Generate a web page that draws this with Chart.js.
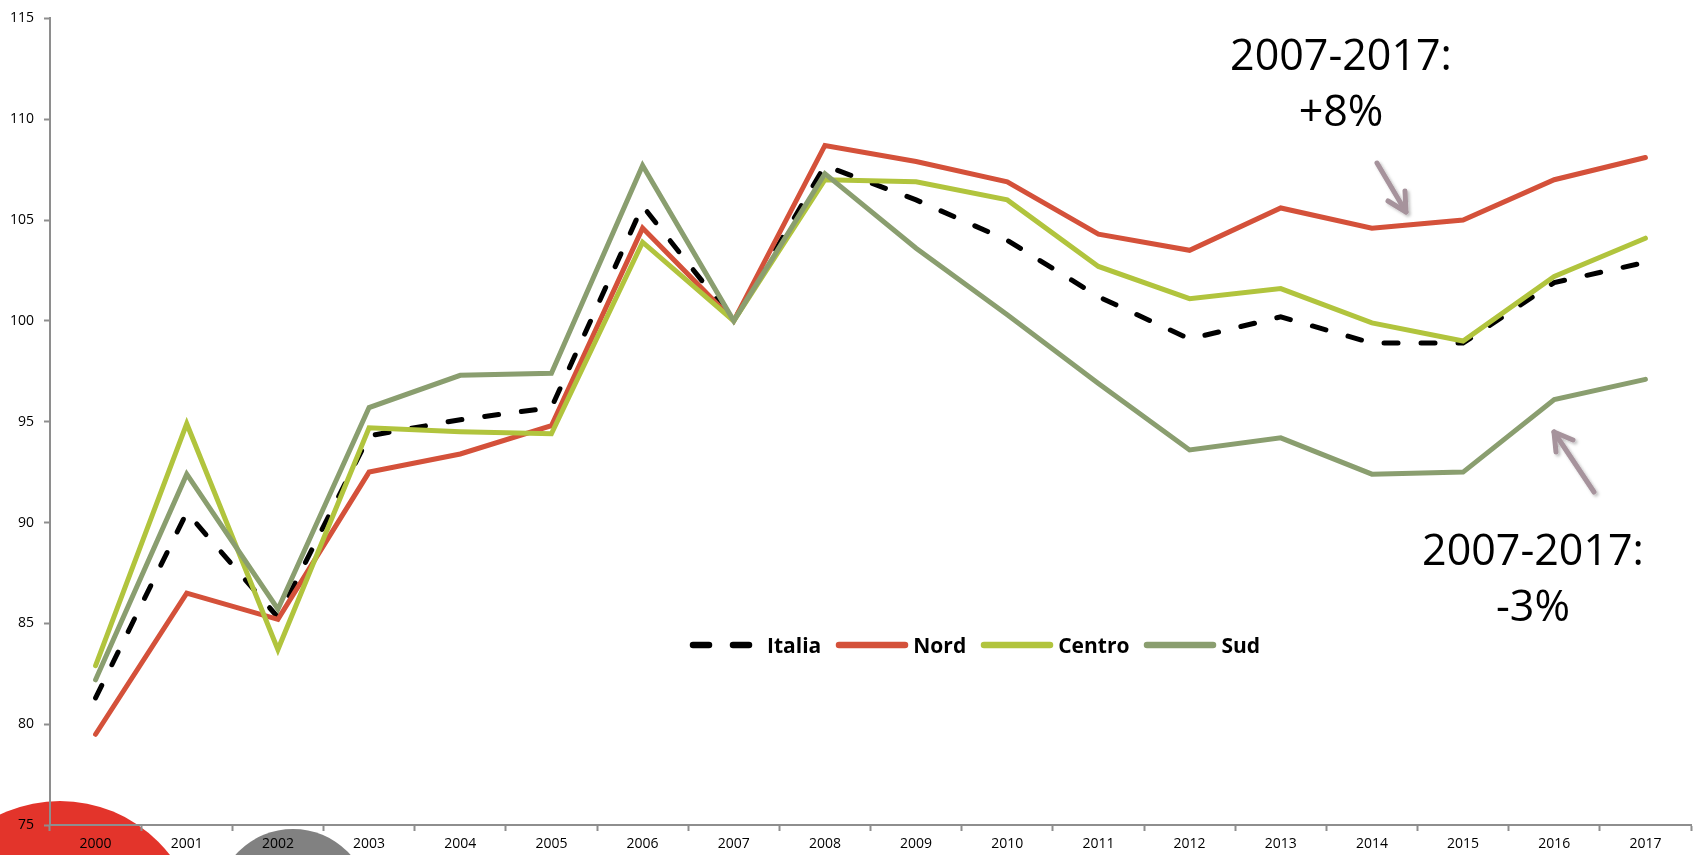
<!DOCTYPE html>
<html>
<head>
<meta charset="utf-8">
<script src="https://cdn.jsdelivr.net/npm/chart.js@4.4.1/dist/chart.umd.min.js"></script>
<style>
    html, body { margin: 0; padding: 0; background: #fff; }
    #wrap { position: relative; width: 1696px; height: 855px; overflow: hidden; }
    .blob { position: absolute; border-radius: 50%; z-index: 0; }
    #chart-box { position: absolute; left: 0; top: 0; width: 1696px; height: 855px; z-index: 1; }
    #legend {
        position: absolute; left: 687px; top: 631px; height: 28px; z-index: 2;
        display: flex; align-items: center;
        font-family: "Open Sans", sans-serif;
        font-weight: bold; font-size: 21px; line-height: 28px; color: #000;
    }
    #legend .item { display: flex; align-items: center; margin-right: 14px; }
    #legend svg { display: block; }
    .note {
        position: absolute; width: 320px; text-align: center; z-index: 2;
        font-family: "Open Sans", sans-serif; font-size: 43px; line-height: 56px; color: #000;
    }
    #arrows { position: absolute; left: 0; top: 0; z-index: 3; pointer-events: none; }
</style>
</head>
<body>
<div id="wrap">
    <div class="blob" style="left:-79px; top:801px; width:278px; height:278px; background:#e3342b;"></div>
    <div class="blob" style="left:216px; top:829px; width:154px; height:154px; background:#818181;"></div>
    <div id="chart-box"><canvas id="regions-chart"></canvas></div>
    <div id="legend"></div>
    <div class="note" style="left:1181px; top:26px;">2007-2017:<br>+8%</div>
    <div class="note" style="left:1373px; top:521px;">2007-2017:<br>-3%</div>
    <svg id="arrows" width="1696" height="855">
        <defs>
            <filter id="shadow" x="-50%" y="-50%" width="200%" height="200%">
                <feDropShadow dx="2" dy="2" stdDeviation="1.5" flood-color="#000" flood-opacity="0.25"/>
            </filter>
        </defs>
        <g stroke="#a6939c" stroke-width="5" fill="none" stroke-linecap="round" stroke-linejoin="round" filter="url(#shadow)">
            <line x1="1377" y1="163" x2="1406" y2="212"/>
            <polyline points="1388,201 1406,212 1405,191"/>
            <line x1="1594" y1="492" x2="1554" y2="432"/>
            <polyline points="1556,452 1554,432 1573,440"/>
        </g>
    </svg>
</div>

<script>
// Years on the x axis
const years = ['2000', '2001', '2002', '2003', '2004', '2005', '2006', '2007', '2008',
               '2009', '2010', '2011', '2012', '2013', '2014', '2015', '2016', '2017'];

// Index values (2007 = 100)
const italia = [81.3, 90.5, 85.3, 94.3, 95.1, 95.7, 105.7, 100, 107.7, 106.0, 104.0, 101.2, 99.1, 100.2, 98.9, 98.9, 101.9, 102.9];
const nord   = [79.5, 86.5, 85.2, 92.5, 93.4, 94.8, 104.6, 100, 108.7, 107.9, 106.9, 104.3, 103.5, 105.6, 104.6, 105.0, 107.0, 108.1];
const centro = [82.9, 94.9, 83.7, 94.7, 94.5, 94.4, 103.9, 100, 107.0, 106.9, 106.0, 102.7, 101.1, 101.6, 99.9, 99.0, 102.2, 104.1];
const sud    = [82.2, 92.4, 85.7, 95.7, 97.3, 97.4, 107.7, 100, 107.3, 103.6, 100.3, 96.9, 93.6, 94.2, 92.4, 92.5, 96.1, 97.1];

// Y axis range
const yMin = 75;
const yMax = 115;
const yStep = 5;

const axisColor = '#8e8e8e';

function series(label, data, color, order, dash) {
    return {
        label: label,
        data: data,
        borderColor: color,
        backgroundColor: color,
        borderWidth: 5,
        borderDash: dash || [],
        borderCapStyle: 'round',
        borderJoinStyle: 'miter',
        pointRadius: 0,
        pointHoverRadius: 0,
        tension: 0,
        fill: false,
        order: order
    };
}

const datasets = [
    series('Italia', italia, '#000000', 4, [14, 23]),
    series('Nord', nord, '#d4513a', 3),
    series('Centro', centro, '#b1c43d', 2),
    series('Sud', sud, '#8a9e6f', 1)
];

const ctx = document.getElementById('regions-chart').getContext('2d');
new Chart(ctx, {
    type: 'line',
    data: { labels: years, datasets: datasets },
    options: {
        responsive: true,
        maintainAspectRatio: false,
        animation: false,
        layout: { padding: { top: 15, right: 5, left: 0, bottom: 0 } },
        scales: {
            x: {
                offset: true,
                grid: {
                    offset: true,
                    drawOnChartArea: false,
                    drawTicks: true,
                    tickLength: 6,
                    tickColor: axisColor,
                    tickWidth: 2
                },
                border: { color: axisColor, width: 2 },
                ticks: {
                    color: '#000',
                    padding: 5,
                    maxRotation: 0,
                    autoSkip: false,
                    font: { family: 'Open Sans', size: 14 }
                },
                afterFit: scale => { scale.height = 30; }
            },
            y: {
                min: yMin,
                max: yMax,
                grid: {
                    drawOnChartArea: false,
                    drawTicks: true,
                    tickLength: 6,
                    tickColor: axisColor,
                    tickWidth: 2
                },
                border: { color: axisColor, width: 2 },
                ticks: {
                    stepSize: yStep,
                    color: '#000',
                    padding: 10,
                    font: { family: 'Open Sans', size: 14 }
                },
                afterFit: scale => { scale.width = 50; }
            }
        },
        plugins: {
            legend: { display: false },
            tooltip: { enabled: false },
            title: { display: false }
        }
    }
});

// Legend built from the datasets, in their original order
const legendElement = document.getElementById('legend');
datasets.forEach(ds => {
    const item = document.createElement('div');
    item.className = 'item';
    const sample = ds.borderDash.length
        ? `<svg width="66" height="10" style="margin-right:14px"><line x1="6" y1="5" x2="66" y2="5" stroke="${ds.borderColor}" stroke-width="6.5" stroke-linecap="round" stroke-dasharray="16 24"/></svg>`
        : `<svg width="74" height="10" style="margin-right:4px"><line x1="4" y1="5" x2="70" y2="5" stroke="${ds.borderColor}" stroke-width="6.5" stroke-linecap="round"/></svg>`;
    item.innerHTML = sample + `<span>${ds.label}</span>`;
    legendElement.appendChild(item);
});
</script>
</body>
</html>
